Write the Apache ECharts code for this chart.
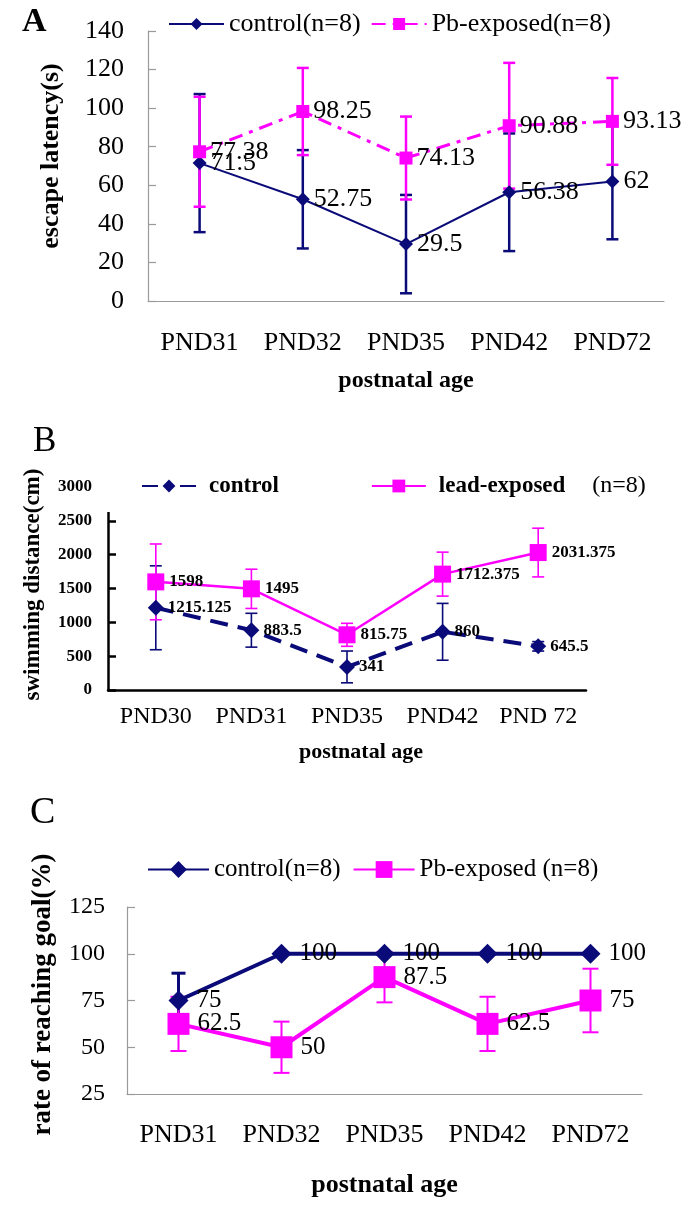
<!DOCTYPE html>
<html>
<head>
<meta charset="utf-8">
<script src="https://cdn.jsdelivr.net/npm/echarts@6/dist/echarts.min.js"></script>
<style>html,body{margin:0;padding:0;background:#fff;}#c{width:685px;height:1208px;}</style>
</head>
<body>
<div id="c"></div>
<script>
// ---- Panel A data ----
const catA = ['PND31', 'PND32', 'PND35', 'PND42', 'PND72'];
const ctrlA = [71.5, 52.75, 29.5, 56.38, 62];
const ctrlA_sd = [35.8, 25.5, 25.5, 30.5, 30];
const pbA = [77.38, 98.25, 74.13, 90.88, 93.13];
const pbA_sd = [28.5, 22.6, 21.5, 32.6, 22.5];
const yA = { min: 0, max: 140, interval: 20 };

// ---- Panel B data ----
const catB = ['PND30', 'PND31', 'PND35', 'PND42', 'PND 72'];
const ctrlB = [1215.125, 883.5, 341, 860, 645.5];
const ctrlB_sd = [620, 250, 235, 420, 70];
const leadB = [1598, 1495, 815.75, 1712.375, 2031.375];
const leadB_sd = [560, 290, 170, 325, 360];
const yB = { min: 0, max: 3000, interval: 500 };

// ---- Panel C data ----
const catC = ['PND31', 'PND32', 'PND35', 'PND42', 'PND72'];
const ctrlC = [75, 100, 100, 100, 100];
const ctrlC_sd = [14.6, 0, 0, 0, 0];
const pbC = [62.5, 50, 87.5, 62.5, 75];
const pbC_sd = [14.5, 13.7, 13.5, 14.5, 17];
const yC = { min: 25, max: 125, interval: 25 };

const NAVY = '#0a0a78';
const MAG = '#ff00ff';
const SERIF = "'Liberation Serif', 'Times New Roman', serif";

function errData(mean, sd) {
  return mean.map((v, i) => [i, v - sd[i], v + sd[i]]);
}
function errRender(color, width, cap) {
  return function (params, api) {
    const x = api.value(0), lo = api.value(1), hi = api.value(2);
    if (hi === lo) return null;
    const a = api.coord([x, hi]), b = api.coord([x, lo]);
    const st = { stroke: color, lineWidth: width };
    return {
      type: 'group',
      children: [
        { type: 'line', shape: { x1: a[0], y1: a[1], x2: b[0], y2: b[1] }, style: st },
        { type: 'line', shape: { x1: a[0] - cap, y1: a[1], x2: a[0] + cap, y2: a[1] }, style: st },
        { type: 'line', shape: { x1: b[0] - cap, y1: b[1], x2: b[0] + cap, y2: b[1] }, style: st }
      ]
    };
  };
}
function errSeries(name, idx, mean, sd, color, width, cap, z) {
  return {
    name: name, type: 'custom', xAxisIndex: idx, yAxisIndex: idx, z: z,
    renderItem: errRender(color, width, cap),
    encode: { x: 0, y: [1, 2] },
    data: errData(mean, sd), silent: true
  };
}

const greyAxis = { lineStyle: { color: '#9a9a9a', width: 1.2 } };
const greyTick = { inside: true, length: 8, lineStyle: { color: '#9a9a9a', width: 1.2 } };
const blackAxis = { lineStyle: { color: '#000', width: 2.5 } };
const blackTick = { inside: true, length: 8, lineStyle: { color: '#000', width: 2.5 } };

const option = {
  animation: false,
  backgroundColor: '#fff',
  title: [
    { text: 'A', left: 17, top: 0, textStyle: { fontFamily: SERIF, fontSize: 34, fontWeight: 'bold', color: '#000' } },
    { text: 'B', left: 28, top: 419, textStyle: { fontFamily: SERIF, fontSize: 35, fontWeight: 'normal', color: '#000' } },
    { text: 'C', left: 25, top: 789, textStyle: { fontFamily: SERIF, fontSize: 38, fontWeight: 'normal', color: '#000' } }
  ],
  legend: [
    {
      data: ['control(n=8)', 'Pb-exposed(n=8)'],
      left: 163, top: 6, itemWidth: 55, itemHeight: 15, itemGap: 10,
      textStyle: { fontFamily: SERIF, fontSize: 26, color: '#000' }
    },
    {
      data: [
        { name: 'control', lineStyle: { type: [16, 22] } },
        { name: 'lead-exposed' }
      ],
      left: 100, top: 468, itemWidth: 54, itemHeight: 16, itemGap: 92,
      backgroundColor: '#fff', padding: [6, 12, 14, 41],
      formatter: function (n) {
        return n === 'lead-exposed' ? '{b|lead-exposed}{n|(n=8)}' : '{b|' + n + '}';
      },
      textStyle: {
        fontFamily: SERIF, color: '#000', padding: [0, 0, 0, 8],
        rich: {
          b: { fontFamily: SERIF, fontSize: 23, fontWeight: 'bold', color: '#000' },
          n: { fontFamily: SERIF, fontSize: 24, color: '#000', padding: [0, 0, 0, 27] }
        }
      }
    },
    {
      data: ['C:control(n=8)', 'C:Pb-exposed (n=8)'],
      left: 142, top: 852, itemWidth: 61, itemHeight: 21, itemGap: 12,
      formatter: function (n) { return n.replace('C:', ''); },
      textStyle: { fontFamily: SERIF, fontSize: 25, color: '#000' }
    }
  ],
  grid: [
    { left: 148, top: 31, width: 516, height: 270 },
    { left: 108, top: 487, width: 478, height: 203 },
    { left: 127, top: 907, width: 515, height: 187 }
  ],
  xAxis: [
    {
      gridIndex: 0, type: 'category', data: catA, boundaryGap: true,
      axisLine: greyAxis, axisTick: greyTick,
      axisLabel: { interval: 0, margin: 29, fontFamily: SERIF, fontSize: 26, color: '#000' },
      name: 'postnatal age', nameLocation: 'middle', nameGap: 68,
      nameTextStyle: { fontFamily: SERIF, fontSize: 24, fontWeight: 'bold', color: '#000' }
    },
    {
      gridIndex: 1, type: 'category', data: catB, boundaryGap: true,
      axisLine: blackAxis, axisTick: blackTick,
      axisLabel: { interval: 0, margin: 15, fontFamily: SERIF, fontSize: 24, color: '#000' },
      name: 'postnatal age', nameLocation: 'middle', nameGap: 51,
      nameTextStyle: { fontFamily: SERIF, fontSize: 22, fontWeight: 'bold', color: '#000', padding: [0, 0, 0, 28] }
    },
    {
      gridIndex: 2, type: 'category', data: catC, boundaryGap: true,
      axisLine: greyAxis, axisTick: greyTick,
      axisLabel: { interval: 0, margin: 28, fontFamily: SERIF, fontSize: 26, color: '#000' },
      name: 'postnatal age', nameLocation: 'middle', nameGap: 78,
      nameTextStyle: { fontFamily: SERIF, fontSize: 26, fontWeight: 'bold', color: '#000' }
    }
  ],
  yAxis: [
    {
      gridIndex: 0, type: 'value', min: yA.min, max: yA.max, interval: yA.interval,
      axisLine: Object.assign({ show: true }, greyAxis), axisTick: Object.assign({ show: true }, greyTick),
      splitLine: { show: false },
      axisLabel: { margin: 24, fontFamily: SERIF, fontSize: 26, color: '#000' },
      name: 'escape latency(s)', nameLocation: 'middle', nameGap: 84,
      nameTextStyle: { fontFamily: SERIF, fontSize: 26, fontWeight: 'bold', color: '#000', padding: [0, 0, 0, 20] }
    },
    {
      gridIndex: 1, type: 'value', min: yB.min, max: yB.max, interval: yB.interval,
      axisLine: Object.assign({ show: true }, blackAxis), axisTick: Object.assign({ show: true }, blackTick),
      splitLine: { show: false },
      axisLabel: { margin: 16, fontFamily: SERIF, fontSize: 17, fontWeight: 'bold', color: '#000',
        formatter: function (v) { return String(v); } },
      name: 'swimming distance(cm)', nameLocation: 'middle', nameGap: 63,
      nameTextStyle: { fontFamily: SERIF, fontSize: 23, fontWeight: 'bold', color: '#000', padding: [0, 0, 0, 8] }
    },
    {
      gridIndex: 2, type: 'value', min: yC.min, max: yC.max, interval: yC.interval,
      axisLine: Object.assign({ show: true }, greyAxis), axisTick: Object.assign({ show: true }, greyTick),
      splitLine: { show: false },
      axisLabel: { margin: 22, fontFamily: SERIF, fontSize: 24, color: '#000' },
      name: 'rate of reaching goal(%)', nameLocation: 'middle', nameGap: 70,
      nameTextStyle: { fontFamily: SERIF, fontSize: 27, fontWeight: 'bold', color: '#000', padding: [0, 0, 0, 12] }
    }
  ],
  series: [
    // Panel A
    errSeries('A-ctrl-err', 0, ctrlA, ctrlA_sd, NAVY, 2.5, 6, 1),
    errSeries('A-pb-err', 0, pbA, pbA_sd, MAG, 2.5, 6, 2),
    {
      name: 'control(n=8)', type: 'line', xAxisIndex: 0, yAxisIndex: 0, data: ctrlA, z: 3,
      symbol: 'diamond', symbolSize: 14, itemStyle: { color: NAVY },
      lineStyle: { color: NAVY, width: 2 },
      label: { show: true, position: 'right', distance: 4, fontFamily: SERIF, fontSize: 26, color: '#000' }
    },
    {
      name: 'Pb-exposed(n=8)', type: 'line', xAxisIndex: 0, yAxisIndex: 0, data: pbA, z: 4,
      symbol: 'rect', symbolSize: 13, itemStyle: { color: MAG },
      lineStyle: { color: MAG, width: 3, type: [14, 7, 4, 7] },
      label: { show: true, position: 'right', distance: 4, fontFamily: SERIF, fontSize: 26, color: '#000' }
    },
    // Panel B
    errSeries('B-ctrl-err', 1, ctrlB, ctrlB_sd, NAVY, 1.6, 6, 1),
    errSeries('B-lead-err', 1, leadB, leadB_sd, MAG, 1.6, 6, 2),
    {
      name: 'control', type: 'line', xAxisIndex: 1, yAxisIndex: 1, data: ctrlB, z: 3,
      symbol: 'diamond', symbolSize: 16, itemStyle: { color: NAVY },
      lineStyle: { color: NAVY, width: 4, type: [18, 10] },
      label: { show: true, position: 'right', distance: 4, fontFamily: SERIF, fontSize: 17, fontWeight: 'bold', color: '#000' }
    },
    {
      name: 'lead-exposed', type: 'line', xAxisIndex: 1, yAxisIndex: 1, data: leadB, z: 4,
      symbol: 'rect', symbolSize: 17, itemStyle: { color: MAG },
      lineStyle: { color: MAG, width: 2.5 },
      label: { show: true, position: 'right', distance: 5, fontFamily: SERIF, fontSize: 17, fontWeight: 'bold', color: '#000' }
    },
    // Panel C
    errSeries('C-ctrl-err', 2, ctrlC, ctrlC_sd, NAVY, 3, 7, 1),
    errSeries('C-pb-err', 2, pbC, pbC_sd, MAG, 2, 8, 2),
    {
      name: 'C:control(n=8)', type: 'line', xAxisIndex: 2, yAxisIndex: 2, data: ctrlC, z: 3,
      symbol: 'diamond', symbolSize: 20, itemStyle: { color: NAVY },
      lineStyle: { color: NAVY, width: 4 },
      label: { show: true, position: 'right', distance: 8, fontFamily: SERIF, fontSize: 25, color: '#000' }
    },
    {
      name: 'C:Pb-exposed (n=8)', type: 'line', xAxisIndex: 2, yAxisIndex: 2, data: pbC, z: 4,
      symbol: 'rect', symbolSize: 22, itemStyle: { color: MAG },
      lineStyle: { color: MAG, width: 4 },
      label: { show: true, position: 'right', distance: 8, fontFamily: SERIF, fontSize: 25, color: '#000' }
    }
  ]
};

const chart = echarts.init(document.getElementById('c'), null, { renderer: 'canvas' });
chart.setOption(option);
</script>
</body>
</html>
